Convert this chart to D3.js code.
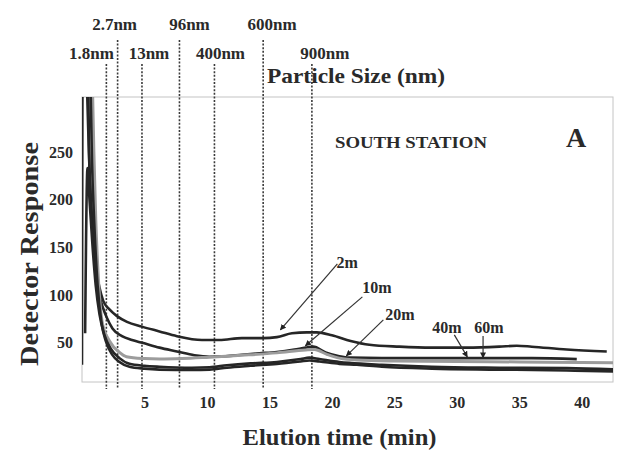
<!DOCTYPE html>
<html>
<head>
<meta charset="utf-8">
<script src="https://cdn.jsdelivr.net/npm/d3@7"></script>
<style>
body { margin: 0; background: #fff; }
text { font-family: "Liberation Serif", "Times New Roman", serif; font-weight: bold; fill: #2a2a2a; }
</style>
</head>
<body>
<svg id="chart" width="618" height="451"></svg>
<script>
var width = 618;
var height = 451;
var margin = {top: 97, right: 5, bottom: 69, left: 82};

// [elution time (min), detector response] for each sampling distance
var curve2m = [[0, 27], [0.05, 340], [0.45, 340], [0.6, 230], [0.85, 170], [1.1, 130], [1.4, 108], [1.7, 94], [2.2, 85],
	[2.8, 78], [3.6, 72], [4.8, 67], [6.2, 62], [7.6, 57], [9.6, 53], [11, 53], [12.8, 55], [14.5, 55], [15.6, 56],
	[16.8, 60], [18, 61], [18.8, 61], [20, 58], [21.5, 52], [23, 48], [25.4, 46], [28, 45], [30.8, 45], [33.4, 46],
	[34.8, 47], [36, 46], [38.8, 43], [42, 41]];
var curve10m = [[0.35, 340], [0.55, 250], [0.8, 180], [1.1, 130], [1.4, 100], [1.7, 86], [2, 76], [2.44, 65], [3.2, 57],
	[4, 53], [4.84, 50], [6.2, 45], [7.6, 41], [9, 37], [10.2, 35.5], [11.5, 36], [12.8, 37.5], [14.2, 39], [15.6, 40.5],
	[17, 43], [17.9, 45], [18.5, 46], [19.5, 40], [20.6, 36], [21.4, 34.5], [24, 34], [28, 34], [33, 34], [36, 34], [39.6, 33]];
var curve20m = [[0.8, 340], [0.95, 250], [1.1, 180], [1.3, 120], [1.64, 70], [2.2, 52], [3, 40], [3.56, 35.5], [5, 33.5],
	[6.2, 33], [8, 33.5], [10.2, 35], [12.8, 37], [15.6, 39.5], [17.9, 42.5], [18.6, 43], [19.6, 38], [20.6, 34], [22, 32],
	[25, 31], [30, 30.5], [35, 30], [40, 29.5], [42.8, 29]];
var curve40m = [[0.25, 60], [0.44, 233], [0.6, 200], [0.85, 150], [1.1, 110], [1.4, 80], [1.8, 58], [2.3, 44], [3, 34],
	[3.8, 28], [5, 26], [6.2, 25], [8.8, 24], [10.2, 24.5], [11.6, 26.5], [13.5, 28.5], [15.6, 30], [17.5, 33], [18.2, 34.5],
	[19, 33], [20.6, 30], [21.4, 29], [24, 27], [28, 25], [33.4, 24], [38.8, 23.5], [43, 22]];
var curve60m = [[0.65, 340], [0.8, 240], [1, 170], [1.25, 110], [1.55, 72], [1.9, 52], [2.4, 38], [3, 30], [3.8, 25],
	[5, 23], [6.2, 22], [8.8, 21.5], [10.2, 22], [11.6, 24], [13.5, 26], [15.6, 28], [17.5, 30.5], [18.2, 31.5], [19, 30.5],
	[20.6, 28], [22, 27], [24, 25], [28, 23], [33.4, 22], [38.8, 21], [43, 20]];

var seriesNames = ["2m", "10m", "20m", "40m", "60m"];
var seriesData = [curve2m, curve10m, curve20m, curve40m, curve60m];

var xTicks = [5, 10, 15, 20, 25, 30, 35, 40];
var yTicks = [50, 100, 150, 200, 250];

// particle size markers (elution time of each size)
var sizeLabels = ["1.8nm", "2.7nm", "13nm", "96nm", "400nm", "600nm", "900nm"];
var sizeTimes = [1.95, 2.85, 4.8, 7.8, 10.6, 14.5, 18.4];

// curve label annotations, in data units [time, response]
var annoText = [[20.36, 128.5], [22.44, 102.4], [24.28, 74.1], [28.04, 60.5], [31.4, 60.5]];
var annoFrom = [[20.44, 132.7], [22.44, 98.2], [24.12, 74.1], [29.8, 58.4], [32.1, 57.3]];
var annoTo = [[15.88, 63.6], [17.88, 46.9], [21.16, 36.4], [30.84, 35.3], [32.1, 34.3]];

var svg = d3.select("#chart");

var x = d3.scaleLinear()
	.domain([0, 42.5])
	.range([margin.left, width - margin.right]);

var y = d3.scaleLinear()
	.domain([9, 307.5])
	.range([height - margin.bottom, margin.top]);

svg.append("rect")
	.attr("width", width)
	.attr("height", height)
	.attr("fill", "#fff");

svg.append("defs").append("clipPath")
	.attr("id", "plotClip")
	.append("rect")
	.attr("x", margin.left)
	.attr("y", margin.top)
	.attr("width", width - margin.left - margin.right)
	.attr("height", height - margin.top - margin.bottom);

svg.select("defs").append("marker")
	.attr("id", "arrow")
	.attr("viewBox", "0 0 10 10")
	.attr("refX", 9)
	.attr("refY", 5)
	.attr("markerWidth", 6)
	.attr("markerHeight", 6)
	.attr("markerUnits", "userSpaceOnUse")
	.attr("orient", "auto")
	.append("path")
	.attr("d", "M0,0L10,5L0,10Z")
	.attr("fill", "#222");

// plot frame
svg.append("rect")
	.attr("x", margin.left)
	.attr("y", margin.top)
	.attr("width", width - margin.left - margin.right)
	.attr("height", height - margin.top - margin.bottom)
	.attr("fill", "none")
	.attr("stroke", "#c4c4c4")
	.attr("stroke-width", 1);

// axes
var xAxis = d3.axisBottom(x)
	.tickValues(xTicks)
	.tickSize(0)
	.tickPadding(15);

svg.append("g")
	.attr("transform", "translate(0," + (height - margin.bottom) + ")")
	.call(xAxis)
	.call(function(g) { g.select(".domain").remove(); })
	.selectAll("text")
	.attr("font-size", 16)
	.attr("font-family", null);

var yAxis = d3.axisLeft(y)
	.tickValues(yTicks)
	.tickSize(0)
	.tickPadding(9);

svg.append("g")
	.attr("transform", "translate(" + margin.left + ",0)")
	.call(yAxis)
	.call(function(g) { g.select(".domain").remove(); })
	.selectAll("text")
	.attr("font-size", 16)
	.attr("font-family", null);

// particle size lines
var labelRow = [1, 0, 1, 0, 1, 0, 1];
var labelDx = [-15, -3, 7, 10, 6, 9, 13];

svg.selectAll(".size-line")
	.data(sizeTimes)
	.enter().append("line")
	.attr("class", "size-line")
	.attr("x1", function(d) { return x(d); })
	.attr("x2", function(d) { return x(d); })
	.attr("y1", function(d, i) { return labelRow[i] ? 64 : 40; })
	.attr("y2", height - margin.bottom + 7)
	.attr("stroke", "#3a3a3a")
	.attr("stroke-width", 1.6)
	.attr("stroke-dasharray", "2,1.6");

svg.selectAll(".size-label")
	.data(sizeLabels)
	.enter().append("text")
	.attr("class", "size-label")
	.attr("x", function(d, i) { return x(sizeTimes[i]) + labelDx[i]; })
	.attr("y", function(d, i) { return labelRow[i] ? 59 : 30; })
	.attr("text-anchor", "middle")
	.attr("font-size", 17)
	.text(function(d) { return d; });

// curves
var line = d3.line()
	.x(function(d) { return x(d[0]); })
	.y(function(d) { return y(d[1]); })
	.curve(d3.curveMonotoneX);

var plot = svg.append("g").attr("clip-path", "url(#plotClip)");

plot.selectAll(".curve")
	.data(seriesData)
	.enter().append("path")
	.attr("class", "curve")
	.attr("d", line)
	.attr("fill", "none")
	.attr("stroke", function(d, i) { return seriesNames[i] == "20m" ? "#9c9c9c" : "#262626"; })
	.attr("stroke-width", function(d, i) { return seriesNames[i] == "20m" ? 3 : 2.6; })
	.attr("stroke-linejoin", "round");

// curve labels with leaders
svg.selectAll(".leader")
	.data(annoFrom)
	.enter().append("line")
	.attr("class", "leader")
	.attr("x1", function(d) { return x(d[0]); })
	.attr("y1", function(d) { return y(d[1]); })
	.attr("x2", function(d, i) { return x(annoTo[i][0]); })
	.attr("y2", function(d, i) { return y(annoTo[i][1]); })
	.attr("stroke", "#333")
	.attr("stroke-width", 1.2)
	.attr("marker-end", "url(#arrow)");

svg.selectAll(".anno")
	.data(seriesNames)
	.enter().append("text")
	.attr("class", "anno")
	.attr("x", function(d, i) { return x(annoText[i][0]); })
	.attr("y", function(d, i) { return y(annoText[i][1]); })
	.attr("font-size", 16)
	.text(function(d) { return d; });

// titles
svg.append("text")
	.attr("x", 267)
	.attr("y", 83)
	.attr("font-size", 21)
	.attr("textLength", 178)
	.attr("lengthAdjust", "spacingAndGlyphs")
	.text("Particle Size (nm)");

svg.append("text")
	.attr("x", 335)
	.attr("y", 148)
	.attr("font-size", 16)
	.attr("textLength", 152)
	.attr("lengthAdjust", "spacingAndGlyphs")
	.text("SOUTH STATION");

svg.append("text")
	.attr("x", 576)
	.attr("y", 147)
	.attr("text-anchor", "middle")
	.attr("font-size", 28)
	.text("A");

svg.append("text")
	.attr("x", (margin.left + width - margin.right) / 2 - 8)
	.attr("y", 445)
	.attr("text-anchor", "middle")
	.attr("font-size", 24)
	.attr("textLength", 194)
	.attr("lengthAdjust", "spacingAndGlyphs")
	.text("Elution time (min)");

svg.append("text")
	.attr("transform", "translate(38,254) rotate(-90)")
	.attr("text-anchor", "middle")
	.attr("font-size", 26)
	.attr("textLength", 224)
	.attr("lengthAdjust", "spacingAndGlyphs")
	.text("Detector Response");
</script>
</body>
</html>
